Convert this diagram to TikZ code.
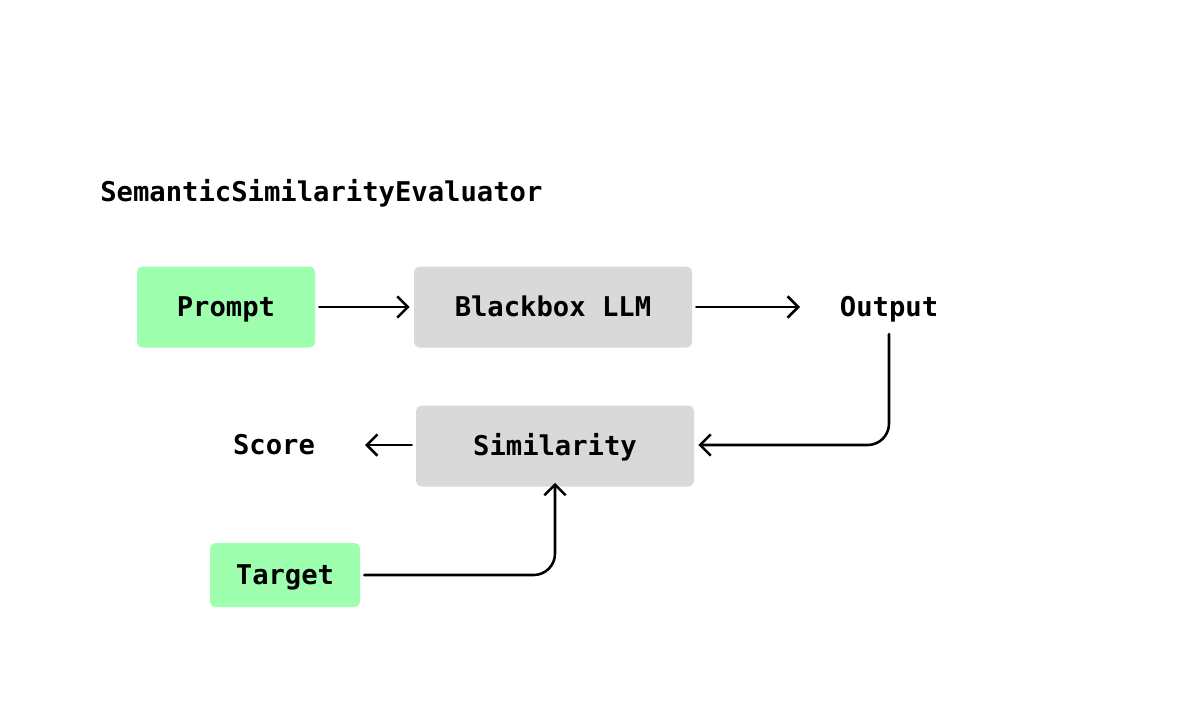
\documentclass[tikz,border=0pt]{standalone}
\usepackage{fontspec}
\setmonofont{DejaVu Sans Mono}
\usetikzlibrary{arrows.meta}
\definecolor{boxgreen}{HTML}{9EFFAF}
\definecolor{boxgray}{HTML}{D9D9D9}
\begin{document}
\begin{tikzpicture}[x=0.75pt,y=-0.75pt,
  lbl/.style={font=\fontsize{20.4}{24}\selectfont\ttfamily\bfseries, text=black,
     inner sep=0pt, text height=14.9pt, text depth=0pt},
  gbox/.style={lbl, fill=boxgreen, rounded corners=4pt},
  bbox/.style={lbl, fill=boxgray, rounded corners=4pt},
  conn/.style={line width=1.9pt, line cap=round, line join=round, rounded corners=16pt,
     -{Straight Barb[length=8pt,width=16pt,line width=1.9pt]}}]
\useasboundingbox (0,0) rectangle (1192,726);
\node[lbl, anchor=west] (title) at (100,192) {SemanticSimilarityEvaluator};
\node[gbox, minimum width=178*0.75pt, minimum height=81*0.75pt] (prompt) at (226,307) {Prompt};
\node[bbox, minimum width=278*0.75pt, minimum height=81*0.75pt] (llm) at (553,307) {Blackbox LLM};
\node[lbl] (output) at (889,307) {Output};
\node[bbox, minimum width=278*0.75pt, minimum height=81*0.75pt] (sim) at (555,446) {Similarity};
\node[lbl] (score) at (274,445) {Score};
\node[gbox, minimum width=150*0.75pt, minimum height=64*0.75pt] (target) at (285,575) {Target};
\coordinate (c1) at (889,445);
\coordinate (c2) at (555,575);
\coordinate (oend) at (800,307);
\coordinate (send) at (365,445);
\coordinate (ostart) at (889,334);
\draw[conn] ([xshift=3pt]prompt.east) -- ([xshift=-3pt]llm.west);
\draw[conn] ([xshift=3pt]llm.east) -- (oend);
\draw[conn] (ostart) -- (c1) -- ([xshift=3pt]sim.east |- c1);
\draw[conn] ([xshift=-3pt]sim.west |- send) -- (send);
\draw[conn] ([xshift=3pt]target.east) -- (c2) -- ([yshift=3pt]sim.south);
\end{tikzpicture}
\end{document}
